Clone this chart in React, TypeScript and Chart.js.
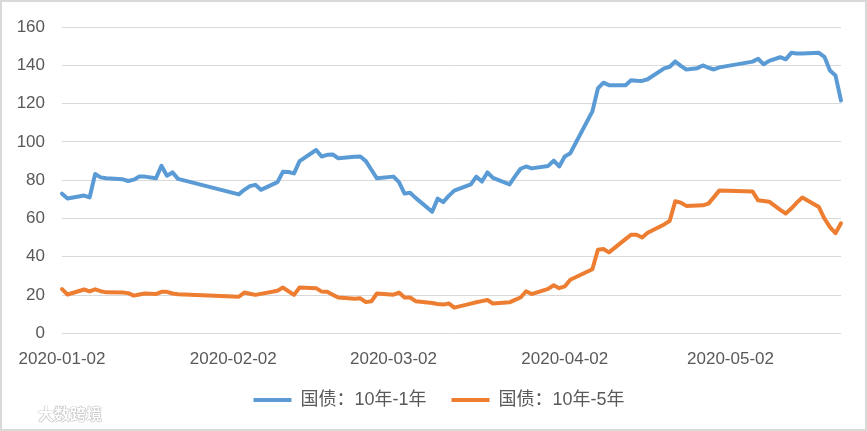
import React, { useEffect, useRef } from 'react';
import { Chart, registerables } from 'chart.js';

Chart.register(...registerables);

// Trading dates (2020)
const dates: string[] = [
  '2020-01-02', '2020-01-03', '2020-01-06', '2020-01-07', '2020-01-08', '2020-01-09', '2020-01-10',
  '2020-01-13', '2020-01-14', '2020-01-15', '2020-01-16', '2020-01-17', '2020-01-19', '2020-01-20',
  '2020-01-21', '2020-01-22', '2020-01-23',
  '2020-02-03', '2020-02-04', '2020-02-05', '2020-02-06', '2020-02-07', '2020-02-10', '2020-02-11',
  '2020-02-12', '2020-02-13', '2020-02-14', '2020-02-17', '2020-02-18', '2020-02-19', '2020-02-20',
  '2020-02-21', '2020-02-24', '2020-02-25', '2020-02-26', '2020-02-27', '2020-02-28',
  '2020-03-02', '2020-03-03', '2020-03-04', '2020-03-05', '2020-03-06', '2020-03-09', '2020-03-10',
  '2020-03-11', '2020-03-12', '2020-03-13', '2020-03-16', '2020-03-17', '2020-03-18', '2020-03-19',
  '2020-03-20', '2020-03-23', '2020-03-24', '2020-03-25', '2020-03-26', '2020-03-27', '2020-03-30',
  '2020-03-31',
  '2020-04-01', '2020-04-02', '2020-04-03', '2020-04-07', '2020-04-08', '2020-04-09', '2020-04-10',
  '2020-04-13', '2020-04-14', '2020-04-15', '2020-04-16', '2020-04-17', '2020-04-20', '2020-04-21',
  '2020-04-22', '2020-04-23', '2020-04-24', '2020-04-26', '2020-04-27', '2020-04-28', '2020-04-29',
  '2020-04-30',
  '2020-05-06', '2020-05-07', '2020-05-08', '2020-05-09', '2020-05-11', '2020-05-12', '2020-05-13',
  '2020-05-14', '2020-05-15', '2020-05-18', '2020-05-19', '2020-05-20', '2020-05-21', '2020-05-22',
];

// 国债：10年-1年
const spread10y1y: number[] = [
  73, 70.5, 72, 71, 83.3, 81.5, 81, 80.5, 79.6, 80.3, 82, 81.9, 81, 87.6, 82.4, 84.1, 80.7,
  72.6, 75, 76.9, 77.6, 75, 79, 84.5, 84.3, 83.6, 90, 95.8, 92.4, 93.3, 93.5, 91.5, 92.3, 92.4, 90, 85.5, 81,
  81.9, 79, 73, 73.5, 70.8, 63.5, 70.4, 68.6, 71.8, 74.6, 77.8, 81.9, 79.3, 84.1, 81.2, 77.8, 82, 86, 87.2, 86.2, 87.5, 90.2,
  87.2, 92.4, 94.1, 116, 128, 131, 129.7, 129.7, 132.3, 132, 131.9, 132.8, 138.5, 139.3, 142.1, 139.8, 137.9, 138.6, 140, 138.8, 137.9, 139,
  142, 143.5, 140.6, 142.4, 144.3, 143.2, 146.6, 146.3, 146.2, 146.6, 144.5, 137.4, 134.8, 121.7,
];

// 国债：10年-5年
const spread10y5y: number[] = [
  23.1, 20.3, 22.9, 21.9, 23, 22, 21.4, 21.3, 21, 19.7, 20.3, 20.8, 20.5, 21.7, 21.7, 20.8, 20.4,
  19.1, 21.3, 20.7, 20.1, 20.6, 22.2, 23.9, 22, 20.1, 23.9, 23.6, 21.8, 21.7, 20.2, 18.7, 18, 18.3, 16.3, 16.7, 20.8,
  20.2, 21.3, 18.7, 18.7, 16.8, 15.8, 15.3, 15, 15.6, 13.4, 15.5, 16.2, 16.8, 17.4, 15.6, 16.2, 17.5, 18.7, 22, 20.5, 23.2, 25.1,
  23.6, 24.5, 28, 33.5, 43.7, 44.1, 42.3, 49.2, 51.5, 51.5, 50.1, 52.6, 56.9, 58.8, 69, 68.3, 66.6, 66.8, 66.9, 67.8, 71.2, 74.7,
  74.1, 69.5, 69.2, 68.8, 64.5, 62.6, 65.2, 68.3, 71, 66, 60, 55.5, 52.3, 57.5,
];

const seriesNames: string[] = ['国债：10年-1年', '国债：10年-5年'];
const seriesColors: string[] = ['#5B9BD5', '#ED7D31'];
const xTickLabels: string[] = ['2020-01-02', '2020-02-02', '2020-03-02', '2020-04-02', '2020-05-02'];
const yMin = 0;
const yMax = 160;
const yStep = 20;

const DAY_MS = 86400000;
const baseTime = Date.parse(dates[0]);
const toDay = (s: string) => Math.round((Date.parse(s) - baseTime) / DAY_MS);

const FONT = "'Liberation Sans', 'Noto Sans CJK SC', sans-serif";

// shifts the legend row horizontally so it is centred under the whole figure like the original
const legendShift = {
  id: 'legendShift',
  afterLayout(chart: any) {
    const l = chart.legend;
    if (l) {
      l.left += 18.5;
      l.right += 18.5;
    }
  },
};

export default function App() {
  const canvasRef = useRef<HTMLCanvasElement | null>(null);

  useEffect(() => {
    const canvas = canvasRef.current;
    if (!canvas) return;
    const xs = dates.map(toDay);
    const series = [spread10y1y, spread10y5y];
    const chart = new Chart(canvas, {
      type: 'line',
      data: {
        datasets: series.map((vals, i) => ({
          label: seriesNames[i],
          data: vals.map((v, j) => ({ x: xs[j], y: v })),
          borderColor: seriesColors[i],
          backgroundColor: seriesColors[i],
          borderWidth: 4,
          borderCapStyle: 'round' as const,
          borderJoinStyle: 'round' as const,
          pointRadius: 0,
          tension: 0,
          fill: false,
          clip: false as const,
        })),
      },
      plugins: [legendShift],
      options: {
        responsive: false,
        animation: false,
        devicePixelRatio: 1,
        layout: { padding: { left: 0, right: 26, top: 23.3, bottom: 12 } },
        plugins: {
          tooltip: { enabled: false },
          legend: {
            position: 'bottom',
            labels: {
              usePointStyle: true,
              pointStyle: 'line',
              pointStyleWidth: 38,
              padding: 25,
              color: '#595959',
              font: { family: FONT, size: 18 },
            },
          },
        },
        scales: {
          x: {
            type: 'linear',
            min: 0,
            max: xs[xs.length - 1],
            afterBuildTicks: (scale: any) => {
              scale.ticks = xTickLabels.map((l) => ({ value: toDay(l) }));
            },
            afterFit: (scale: any) => {
              scale.height = 32.7;
            },
            grid: { display: false, drawTicks: false },
            border: { display: false },
            ticks: {
              autoSkip: false,
              maxRotation: 0,
              padding: 16,
              color: '#595959',
              font: { family: FONT, size: 17 },
              callback: (_v: any, i: number) => xTickLabels[i],
            },
          },
          y: {
            min: yMin,
            max: yMax,
            afterFit: (scale: any) => {
              scale.width = 62;
            },
            grid: { color: '#d9d9d9', lineWidth: 1, drawTicks: false },
            border: { display: false },
            ticks: {
              stepSize: yStep,
              padding: 17,
              color: '#595959',
              font: { family: FONT, size: 17 },
            },
          },
        },
      },
    });
    return () => chart.destroy();
  }, []);

  return (
    <div
      style={{
        position: 'fixed',
        left: 0,
        top: 0,
        width: 867,
        height: 431,
        background: '#ffffff',
      }}
    >
      <canvas ref={canvasRef} width={867} height={431} style={{ position: 'absolute', left: 0, top: 0 }} />
      <div
        style={{
          position: 'absolute',
          left: 0,
          top: 0,
          width: 867,
          height: 431,
          boxSizing: 'border-box',
          border: '2px solid #d9d9d9',
          pointerEvents: 'none',
        }}
      />
      <div
        style={{
          position: 'absolute',
          left: 38,
          top: 401,
          fontFamily: "'Noto Sans CJK SC', sans-serif",
          fontSize: 16,
          fontWeight: 700,
          color: '#ffffff',
          textShadow: '0 0 1px #a0a0a0, 0 0 1px #a0a0a0, 0 0 1px #a0a0a0',
        }}
      >
        大数跨境
      </div>
    </div>
  );
}
